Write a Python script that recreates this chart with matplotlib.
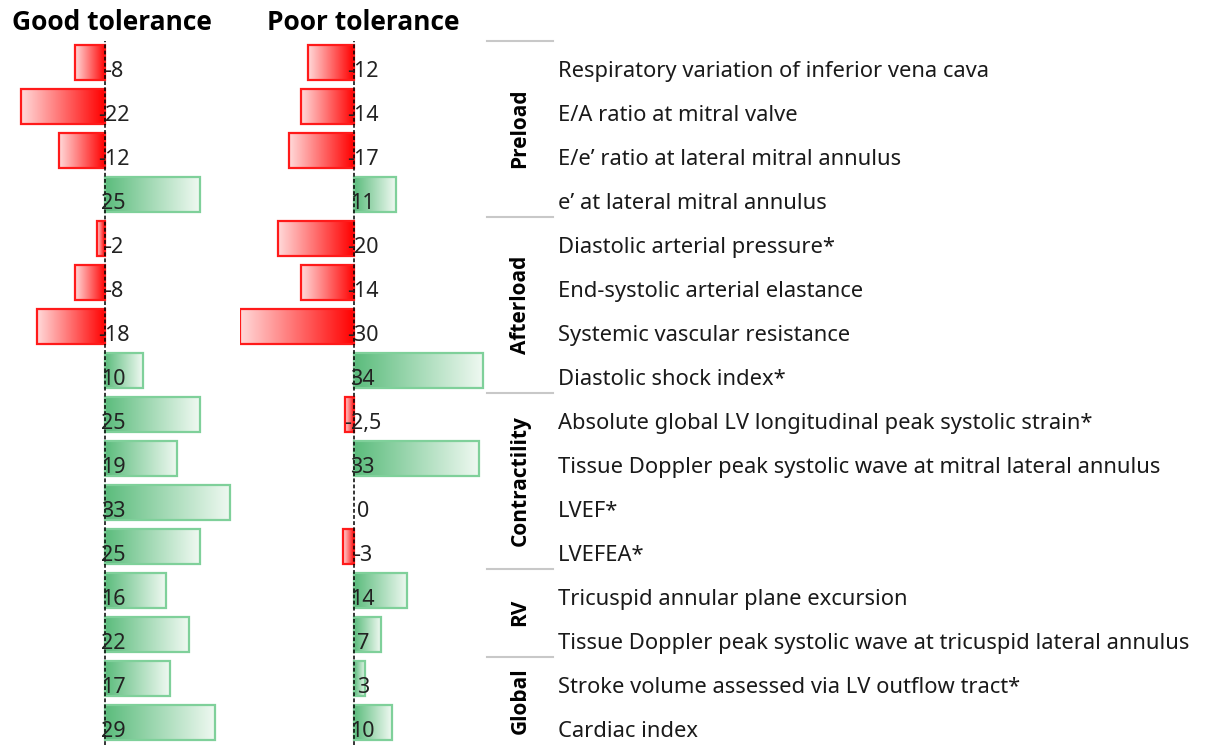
import numpy as np
import matplotlib
matplotlib.use('Agg')
import matplotlib.pyplot as plt
from matplotlib.colors import LinearSegmentedColormap
from matplotlib.patches import Rectangle

labels = ['Respiratory variation of inferior vena cava',
          'E/A ratio at mitral valve',
          'E/e\u2019 ratio at lateral mitral annulus',
          'e\u2019 at lateral mitral annulus',
          'Diastolic arterial pressure*',
          'End-systolic arterial elastance',
          'Systemic vascular resistance',
          'Diastolic shock index*',
          'Absolute global LV longitudinal peak systolic strain*',
          'Tissue Doppler peak systolic wave at mitral lateral annulus',
          'LVEF*',
          'LVEFEA*',
          'Tricuspid annular plane excursion',
          'Tissue Doppler peak systolic wave at tricuspid lateral annulus',
          'Stroke volume assessed via LV outflow tract*',
          'Cardiac index']

good = [-8, -22, -12, 25, -2, -8, -18, 10, 25, 19, 33, 25, 16, 22, 17, 29]
poor = [-12, -14, -17, 11, -20, -14, -30, 34, -2.5, 33, 0, -3, 14, 7, 3, 10]

groups = ['Preload', 'Afterload', 'Contractility', 'RV', 'Global']
group_sizes = [4, 4, 4, 2, 2]

font = 'Noto Sans'
bold_font = 'Open Sans'
W, H = 1209, 747
fig = plt.figure(figsize=(W / 100, H / 100), dpi=100)

red_cmap = LinearSegmentedColormap.from_list('red', ['#ffdada', '#ff0000'])
green_cmap = LinearSegmentedColormap.from_list('green', ['#5bbc7c', '#f0f9f2'])
grad = np.linspace(0, 1, 256).reshape(1, -1)

ytop, ybot = 40.5, 744.5
n = len(labels)


def panel(x0px, x1px, zero_px, values):
    scale = 3.8  # px per unit
    ax = fig.add_axes([x0px / W, 1 - ybot / H, (x1px - x0px) / W, (ybot - ytop) / H])
    h = 0.8
    for i, v in enumerate(values):
        if v < 0:
            cmap, ec, a, b = red_cmap, '#ff1a1a', v, 0
        elif v > 0:
            cmap, ec, a, b = green_cmap, '#7fd09a', 0, v
        else:
            cmap = None
        if cmap is not None:
            ax.imshow(grad, extent=(a, b, i + h / 2, i - h / 2), aspect='auto',
                      cmap=cmap, zorder=2, interpolation='bilinear')
            ax.add_patch(Rectangle((a, i - h / 2), b - a, h, fill=False,
                                   ec=ec, lw=1.6, zorder=3))
        txt = ('%g' % v).replace('.', ',')
        ax.text(2.3, i + 0.21, txt, ha='center', va='center', fontsize=15.5,
                family=font, color='#222222', zorder=6)
    ax.axvline(0, color='black', lw=1.1, ls=(0, (2.5, 1.5)), zorder=5)
    ax.set_xlim(-(zero_px - x0px) / scale, (x1px - zero_px) / scale)
    ax.set_ylim(n - 0.5, -0.5)
    ax.axis('off')
    return ax


panel(0, 240, 105, good)
panel(240, 487, 354, poor)

fig.text(112 / W, 1 - 22 / H, 'Good tolerance', ha='center', va='center',
         fontsize=19, fontweight='bold', family=bold_font)
fig.text(363 / W, 1 - 22 / H, 'Poor tolerance', ha='center', va='center',
         fontsize=19, fontweight='bold', family=bold_font)

# label area
axl = fig.add_axes([487 / W, 1 - ybot / H, (W - 487) / W, (ybot - ytop) / H])
axl.set_xlim(487, W)
axl.set_ylim(n - 0.5, -0.5)
axl.axis('off')
for i, lab in enumerate(labels):
    axl.text(558, i + 0.2, lab, ha='left', va='center', fontsize=15.8,
             family=font, color='#1a1a1a')

start = 0
for g, s in zip(groups, group_sizes):
    axl.plot([487, 553], [start - 0.5, start - 0.5], color='#c8c8c8', lw=1.5,
             clip_on=False)
    axl.text(520, start + (s - 1) / 2, g, rotation=90, ha='center', va='center',
             fontsize=15, fontweight='bold', family=bold_font)
    start += s

fig.savefig('out.png', dpi=100)
